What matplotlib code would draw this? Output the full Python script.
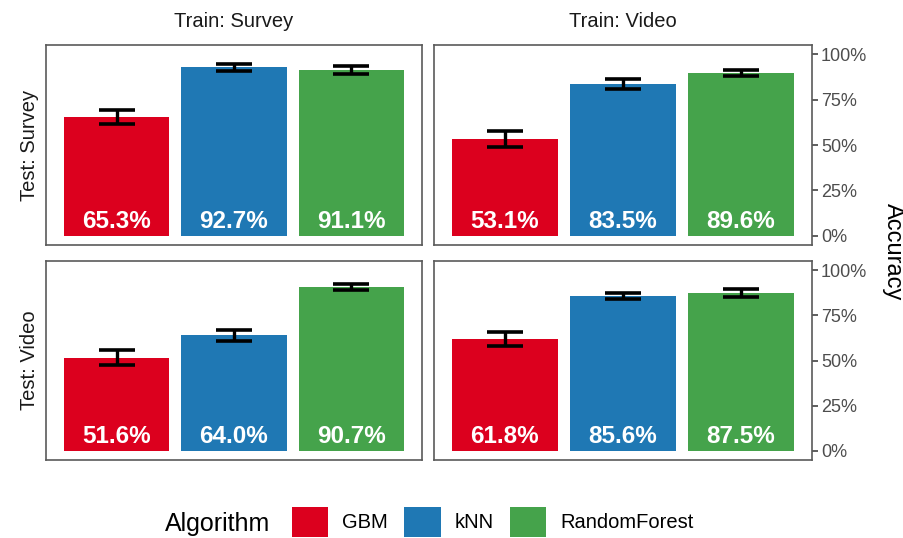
import matplotlib
matplotlib.use('agg')
import matplotlib.pyplot as plt
from matplotlib.patches import Patch
from matplotlib.ticker import PercentFormatter

plt.rcParams['font.family'] = ['Liberation Sans', 'DejaVu Sans']

algorithms = ['GBM', 'kNN', 'RandomForest']
colors = ['#DC001E', '#1F78B4', '#45A34B']
train_sets = ['Survey', 'Video']
test_sets = ['Survey', 'Video']

# accuracy[test][train], one value per algorithm
accuracy = {
    ('Survey', 'Survey'): [0.653, 0.927, 0.911],
    ('Survey', 'Video'): [0.531, 0.835, 0.896],
    ('Video', 'Survey'): [0.516, 0.640, 0.907],
    ('Video', 'Video'): [0.618, 0.856, 0.875],
}
errors = {
    ('Survey', 'Survey'): [0.039, 0.020, 0.023],
    ('Survey', 'Video'): [0.044, 0.028, 0.019],
    ('Video', 'Survey'): [0.042, 0.030, 0.016],
    ('Video', 'Video'): [0.039, 0.016, 0.022],
}
y_ticks = [0, 0.25, 0.5, 0.75, 1.0]

fig = plt.figure(figsize=(9.04, 5.38), dpi=100)

col_x = [(46, 422), (434, 812)]
row_y = [(45, 245), (261, 460)]
W, H = 904, 538

for r, test in enumerate(test_sets):
    for c, train in enumerate(train_sets):
        x0, x1 = col_x[c]
        y0, y1 = row_y[r]
        ax = fig.add_axes([x0 / W, 1 - y1 / H, (x1 - x0) / W, (y1 - y0) / H])
        vals = accuracy[(test, train)]
        errs = errors[(test, train)]
        pos = list(range(1, len(algorithms) + 1))
        ax.bar(pos, vals, width=0.9, color=colors)
        ax.errorbar(pos, vals, yerr=errs, fmt='none', ecolor='black',
                    elinewidth=2.4, capsize=13, capthick=2.6)
        for p, v in zip(pos, vals):
            ax.text(p, 0.045, '%.1f%%' % (v * 100), ha='center', va='baseline',
                    color='white', fontsize=17.5, fontweight='bold')
        ax.set_xlim(0.4, 3.6)
        ax.set_ylim(-0.05, 1.05)
        ax.set_xticks([])
        for s in ax.spines.values():
            s.set_color('#5a5a5a')
            s.set_linewidth(1.2)
        if c == 1:
            ax.yaxis.tick_right()
            ax.set_yticks(y_ticks)
            ax.yaxis.set_major_formatter(PercentFormatter(1.0, decimals=0))
            ax.tick_params(axis='y', length=4.5, width=1.1, color='#333333',
                           labelcolor='#4D4D4D', labelsize=13, pad=2)
        else:
            ax.set_yticks([])
        if r == 0:
            ax.set_title('Train: %s' % train, fontsize=14.5, color='#1A1A1A', pad=13)
        if c == 0:
            ax.set_ylabel('Test: %s' % test, fontsize=14.5, color='#1A1A1A', labelpad=5)

fig.text(893 / W, 1 - 252 / H, 'Accuracy', rotation=-90, ha='center', va='center',
         fontsize=17, color='black')

fig.text(165 / W, 1 - 524 / H, 'Algorithm', ha='left', va='center', fontsize=18)
handles = [Patch(facecolor=col, edgecolor='none') for col in colors]
fig.legend(handles, algorithms, ncol=3, frameon=False, fontsize=14.5,
           loc='center left', bbox_to_anchor=(284 / W, 1 - 522 / H),
           handlelength=1.8, handleheight=1.9, handletextpad=0.7,
           columnspacing=0.8, borderaxespad=0)

fig.savefig('out.png', dpi=100)
